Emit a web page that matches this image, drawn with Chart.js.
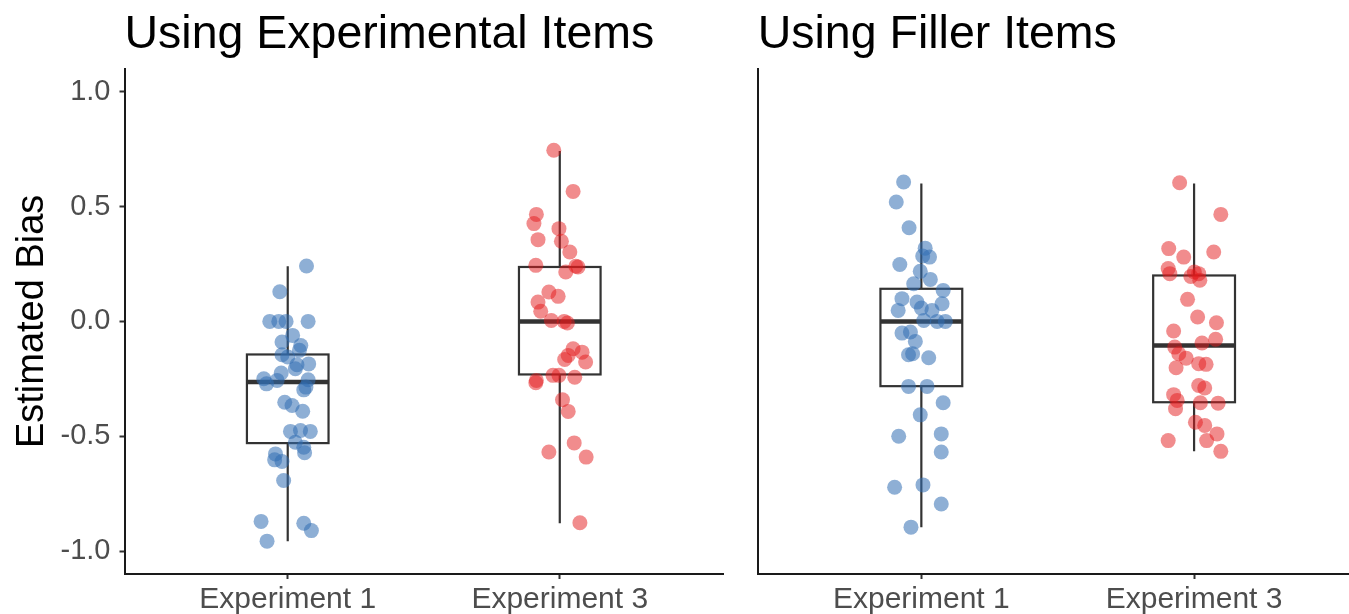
<!DOCTYPE html>
<html>
<head>
<meta charset="utf-8">
<script src="https://cdn.jsdelivr.net/npm/chart.js@4"></script>
<style>
  html, body { margin: 0; padding: 0; background: #fff; overflow: hidden; }
  #wrap { position: relative; width: 1349px; height: 614px; }
  #left { position: absolute; left: 0; top: 0; }
  #right { position: absolute; left: 740px; top: 0; }
</style>
</head>
<body>
<div id="wrap">
  <canvas id="left" width="740" height="614"></canvas>
  <canvas id="right" width="609" height="614"></canvas>
</div>
<script>
const FONT = "'Liberation Sans', Arial, Helvetica, sans-serif";

const experimentLabels = ["Experiment 1", "Experiment 3"];
const yTicks = [-1, -0.5, 0, 0.5, 1];

// Estimated bias per participant, with the horizontal jitter
const expItemsExp1Bias = [0.241, 0.129, 0, 0, 0, 0, -0.061, -0.090, -0.105, -0.126, -0.145, -0.155, -0.189, -0.185,
  -0.206, -0.225, -0.250, -0.272, -0.257, -0.254, -0.298, -0.286, -0.352, -0.366, -0.391, -0.479, -0.475, -0.479,
  -0.526, -0.548, -0.572, -0.577, -0.603, -0.610, -0.693, -0.871, -0.879, -0.911, -0.957];
const expItemsExp1Jitter = [0.069, -0.029, -0.066, -0.033, -0.006, 0.075, 0.018, -0.021, 0.048, 0.043, -0.021, 0, 0.034, 0.077,
  0.028, -0.024, -0.088, -0.078, -0.039, 0.075, 0.059, 0.067, -0.011, 0.016, 0.055, 0.010, 0.047, 0.083,
  0.028, 0.059, 0.062, -0.045, -0.048, -0.021, -0.015, -0.098, 0.059, 0.087, -0.076];

const expItemsExp3Bias = [0.745, 0.566, 0.466, 0.426, 0.404, 0.356, 0.349, 0.302, 0.244, 0.240, 0.237, 0.215, 0.128, 0.109,
  0.084, 0.044, 0.004, 0, -0.007, -0.119, -0.134, -0.148, -0.166, -0.177, -0.235, -0.235, -0.243, -0.257, -0.267,
  -0.341, -0.392, -0.529, -0.569, -0.591, -0.877];
const expItemsExp3Jitter = [-0.022, 0.049, -0.086, -0.095, -0.003, -0.080, 0.006, 0.037, -0.088, 0.059, 0.067, 0.022, -0.040, -0.006,
  -0.080, -0.070, -0.031, 0.016, 0.028, 0.049, 0.082, 0.031, 0.018, 0.095, -0.025, -0.003, 0.055, -0.086, -0.088,
  0.010, 0.031, 0.053, -0.040, 0.097, 0.074];

const fillerExp1Bias = [0.607, 0.520, 0.408, 0.319, 0.285, 0.280, 0.248, 0.218, 0.183, 0.164, 0.135, 0.099, 0.084, 0.077,
  0.048, 0.058, 0.048, 0.004, 0, 0, -0.051, -0.046, -0.087, -0.145, -0.141, -0.158, -0.283, -0.283, -0.354,
  -0.407, -0.500, -0.490, -0.569, -0.722, -0.712, -0.795, -0.896];
const fillerExp1Jitter = [-0.065, -0.092, -0.045, 0.014, 0.005, 0.030, -0.079, -0.004, 0.033, -0.028, 0.080, -0.071, -0.016, 0.076,
  -0.085, 0, 0.039, 0.009, 0.058, 0.088, -0.071, -0.040, -0.022, -0.047, -0.032, 0.027, -0.047, 0.021, 0.080,
  -0.004, -0.083, 0.073, 0.073, -0.098, 0.006, 0.073, -0.038];

const fillerExp3Bias = [0.604, 0.466, 0.317, 0.302, 0.280, 0.230, 0.208, 0.215, 0.208, 0.196, 0.179, 0.096, 0.019, -0.006,
  -0.042, -0.094, -0.078, -0.112, -0.141, -0.160, -0.184, -0.187, -0.202, -0.279, -0.290, -0.319, -0.344, -0.354,
  -0.356, -0.380, -0.439, -0.453, -0.490, -0.519, -0.519, -0.566];
const fillerExp3Jitter = [-0.053, 0.098, -0.093, 0.072, -0.038, -0.095, -0.089, 0.001, 0.017, -0.012, 0.021, -0.024, 0.013, 0.082,
  -0.075, 0.029, 0.079, -0.071, -0.056, -0.029, 0.017, 0.044, -0.066, 0.017, 0.039, -0.075, -0.062, 0.023,
  0.088, -0.068, 0.005, 0.039, 0.084, 0.046, -0.095, 0.098];

// Box summaries: [lower whisker, q1, median, q3, upper whisker]
const expItemsBoxes = [
  [-0.957, -0.530, -0.264, -0.144, 0.240],
  [-0.879, -0.231, 0, 0.237, 0.742],
];
const fillerBoxes = [
  [-0.896, -0.282, 0, 0.142, 0.600],
  [-0.566, -0.352, -0.105, 0.200, 0.600],
];

const BLUE = "rgba(50, 110, 178, 0.55)";
const RED = "rgba(228, 26, 28, 0.5)";
const BOX_HALF_WIDTH = 0.15;

function toPoints(category, bias, jitter) {
  return bias.map((y, i) => ({ x: category + jitter[i], y: y }));
}

function pointDataset(data, color) {
  return {
    data: data,
    backgroundColor: color,
    borderWidth: 0,
    pointRadius: 7.5,
    pointHoverRadius: 7.5,
  };
}

const boxPlotPlugin = {
  id: "boxPlot",
  beforeDatasetsDraw(chart, args, opts) {
    const { ctx, scales } = chart;
    const x = scales.x;
    const y = scales.y;
    ctx.save();
    ctx.strokeStyle = "#333333";
    opts.boxes.forEach((box, i) => {
      const cat = i + 1;
      const [lo, q1, med, q3, hi] = box;
      const cx = x.getPixelForValue(cat);
      const left = x.getPixelForValue(cat - BOX_HALF_WIDTH);
      const right = x.getPixelForValue(cat + BOX_HALF_WIDTH);
      // whiskers
      ctx.lineWidth = 2.2;
      ctx.beginPath();
      ctx.moveTo(cx, y.getPixelForValue(hi));
      ctx.lineTo(cx, y.getPixelForValue(q3));
      ctx.moveTo(cx, y.getPixelForValue(q1));
      ctx.lineTo(cx, y.getPixelForValue(lo));
      ctx.stroke();
      // box
      ctx.fillStyle = "#ffffff";
      const top = y.getPixelForValue(q3);
      const bottom = y.getPixelForValue(q1);
      ctx.fillRect(left, top, right - left, bottom - top);
      ctx.strokeRect(left, top, right - left, bottom - top);
      // median
      ctx.lineWidth = 4.5;
      ctx.beginPath();
      ctx.moveTo(left, y.getPixelForValue(med));
      ctx.lineTo(right, y.getPixelForValue(med));
      ctx.stroke();
    });
    ctx.restore();
  },
};

function panelOptions(title, boxes, showY, xMax, yWidth) {
  return {
    responsive: false,
    animation: false,
    events: [],
    layout: { autoPadding: false, padding: { left: 0, right: showY ? 17 : 0, top: 0, bottom: 0 } },
    plugins: {
      legend: { display: false },
      tooltip: { enabled: false },
      title: {
        display: true,
        text: title,
        align: "start",
        fullSize: false,
        color: "#000000",
        font: { family: FONT, size: 46.5, weight: "normal" },
        padding: { top: 7, bottom: 6 },
      },
      boxPlot: { boxes: boxes },
    },
    scales: {
      x: {
        type: "linear",
        min: 0.4,
        max: xMax,
        afterBuildTicks: (scale) => {
          scale.ticks = [{ value: 1 }, { value: 2 }];
        },
        afterFit: (scale) => {
          scale.height = 40;
        },
        ticks: {
          autoSkip: false,
          maxRotation: 0,
          color: "#4d4d4d",
          font: { family: FONT, size: 30 },
          padding: 3,
          callback: (v, i) => experimentLabels[i],
        },
        grid: { drawOnChartArea: false, drawTicks: true, tickLength: 5, tickColor: "#333333", tickWidth: 2 },
        border: { display: true, color: "#1a1a1a", width: 2 },
      },
      y: {
        type: "linear",
        min: -1.1,
        max: 1.1,
        afterBuildTicks: (scale) => {
          scale.ticks = yTicks.map((v) => ({ value: v }));
        },
        afterFit: (scale) => {
          scale.width = yWidth;
        },
        ticks: {
          display: showY,
          autoSkip: false,
          color: "#4d4d4d",
          font: { family: FONT, size: 29 },
          padding: 9,
          callback: (v) => v.toFixed(1),
        },
        title: {
          display: showY,
          text: "Estimated Bias",
          color: "#000000",
          font: { family: FONT, size: 38 },
          padding: { top: 10, bottom: 0 },
        },
        grid: { drawOnChartArea: false, drawTicks: showY, tickLength: 5, tickColor: "#333333", tickWidth: 2 },
        border: { display: true, color: "#1a1a1a", width: 2 },
      },
    },
  };
}

new Chart(document.getElementById("left"), {
  type: "scatter",
  data: {
    datasets: [
      pointDataset(toPoints(1, expItemsExp1Bias, expItemsExp1Jitter), BLUE),
      pointDataset(toPoints(2, expItemsExp3Bias, expItemsExp3Jitter), RED),
    ],
  },
  options: panelOptions("Using Experimental Items", expItemsBoxes, true, 2.6, 124.5),
  plugins: [boxPlotPlugin],
});

new Chart(document.getElementById("right"), {
  type: "scatter",
  data: {
    datasets: [
      pointDataset(toPoints(1, fillerExp1Bias, fillerExp1Jitter), BLUE),
      pointDataset(toPoints(2, fillerExp3Bias, fillerExp3Jitter), RED),
    ],
  },
  options: panelOptions("Using Filler Items", fillerBoxes, false, 2.568, 17.7),
  plugins: [boxPlotPlugin],
});
</script>
</body>
</html>
